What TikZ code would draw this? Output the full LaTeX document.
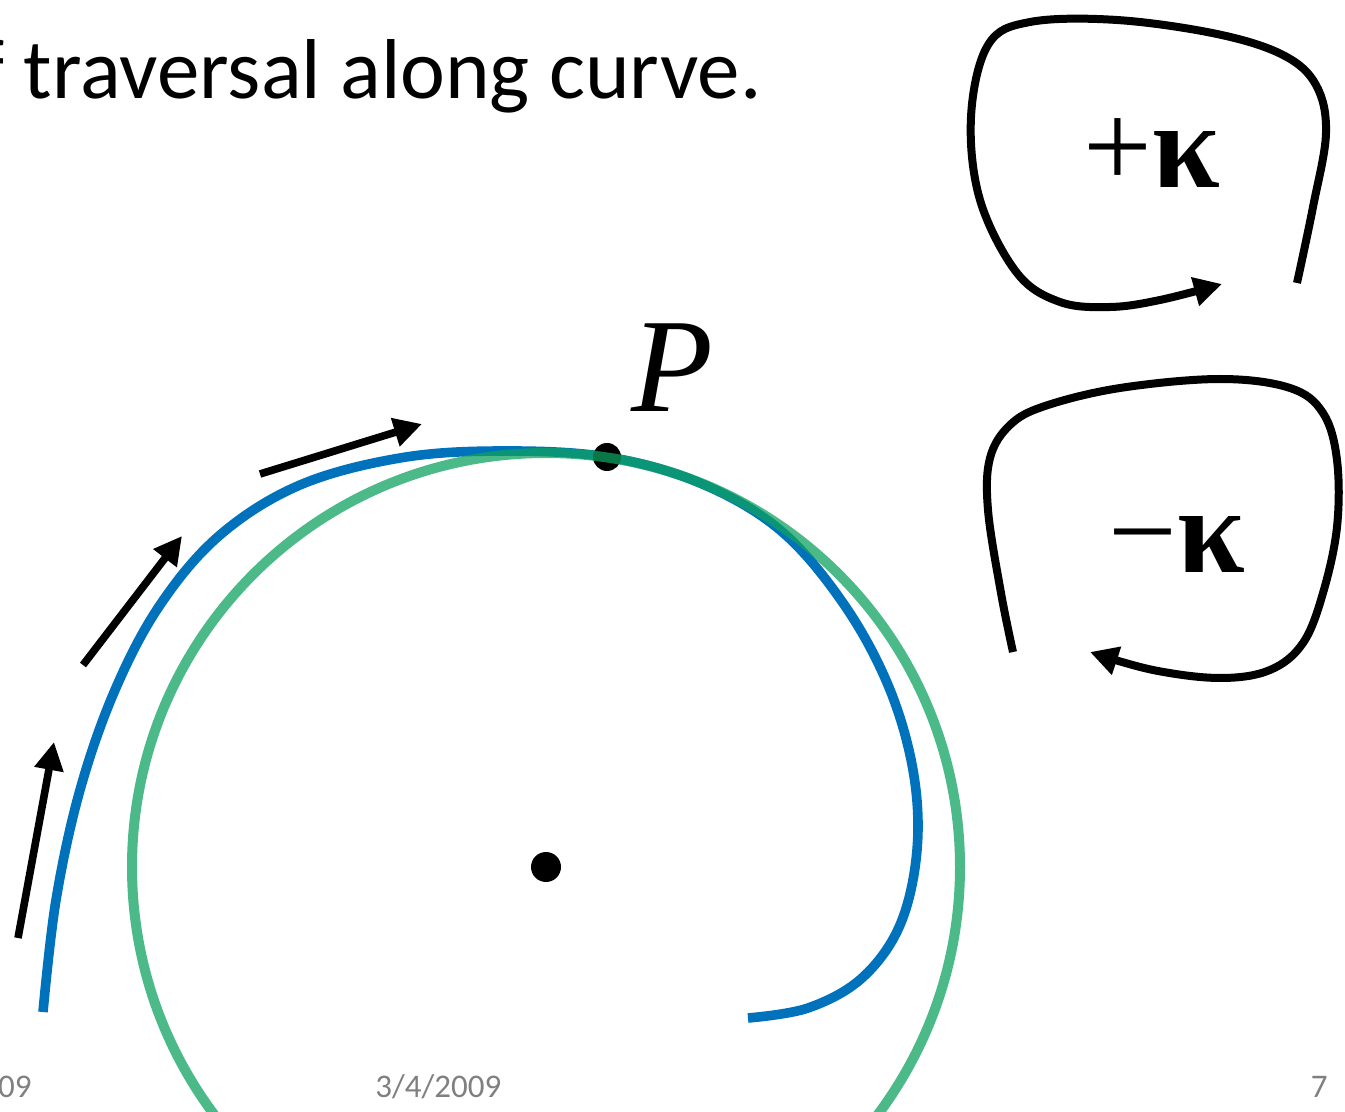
\documentclass[tikz,border=0pt]{standalone}
\usepackage{fontspec}
\setmainfont{Liberation Serif}
\newfontfamily\calib{Carlito}
\usetikzlibrary{arrows.meta}
\definecolor{curveblue}{RGB}{0,114,188}
\definecolor{circgreen}{RGB}{14,162,95}
\definecolor{footgray}{RGB}{128,128,128}
\begin{document}
\begin{tikzpicture}[x=0.5pt,y=-0.5pt,
  blueline/.style={curveblue, line width=4.8pt},
  greenline/.style={circgreen, line width=5pt, opacity=0.74},
  tipshape/.style={-{Triangle[length=14pt,width=14pt]}},
  dirarrow/.style={black, line width=3.8pt, tipshape},
  loopline/.style={black, line width=4pt},
  dotnode/.style={circle, fill=black, inner sep=0pt},
  kappalabel/.style={anchor=base, inner sep=0pt, font=\fontsize{61}{61}\selectfont},
  titletext/.style={inner sep=0pt, font=\calib\fontsize{42.5}{50}\selectfont},
  foottext/.style={inner sep=0pt, text=footgray, font=\calib\fontsize{16.5}{20}\selectfont}]
\useasboundingbox (0,0) rectangle (1345,1112);
\fill[white] (0,0) rectangle (1345,1112);
\clip (0,0) rectangle (1345,1112);

% title and footer
\node[titletext, anchor=base east] (title) at (762,99) {f traversal along curve.};
\node[foottext, anchor=base east] (footl) at (32,1097) {09};
\node[foottext, anchor=base west] (date) at (375,1097) {3/4/2009};
\node[foottext, anchor=base east] (page) at (1328,1097) {7};

% blue curve
\draw[blueline] plot[smooth, tension=0.6] coordinates {(43,1012) (56,900) (80,790) (115,690) (160,605) (220,535) (300,485) (400,458) (500,451) (607,457) (700,483) (780,530) (843,603) (888,685) (913,770) (917,850) (900,925) (862,978) (808,1008) (748,1018)};

% points
\node[dotnode, minimum size=14pt] (P) at (607,457) {};
\node[dotnode, minimum size=15pt] (C) at (546,867) {};
\node[anchor=base, inner sep=0pt, font=\itshape\fontsize{67}{67}\selectfont] (Plabel) at (672,412) {P};

% osculating circle
\draw[greenline] (C.center) circle[radius=414];

% direction arrows
\coordinate (a1s) at (18,938);  \coordinate (a1e) at (54,742);
\coordinate (a2s) at (83,665);  \coordinate (a2e) at (182,536);
\coordinate (a3s) at (260,474); \coordinate (a3e) at (422,424);
\draw[dirarrow] (a1s) -- (a1e);
\draw[dirarrow] (a2s) -- (a2e);
\draw[dirarrow] (a3s) -- (a3e);

% +kappa loop
\draw[loopline, tipshape] plot[smooth, tension=0.6] coordinates {(1297,283) (1313,207) (1326,133) (1316,85) (1283,55) (1217,34) (1117,20) (1030,22) (988,45) (971,117) (980,200) (1017,273) (1060,302) (1110,307) (1160,300) (1222,284)};
\node[kappalabel] (pk) at (1152,188) {+\textbf{κ}};

% -kappa loop
\draw[loopline, tipshape] plot[smooth, tension=0.6] coordinates {(1013,652) (1001,593) (988,510) (990,458) (1010,425) (1045,406) (1120,388) (1220,379) (1290,388) (1323,413) (1337,460) (1337,527) (1323,593) (1303,643) (1270,670) (1220,678) (1153,670) (1090,652)};
\node[kappalabel] (mk) at (1177,573) {−\textbf{κ}};
\end{tikzpicture}
\end{document}
